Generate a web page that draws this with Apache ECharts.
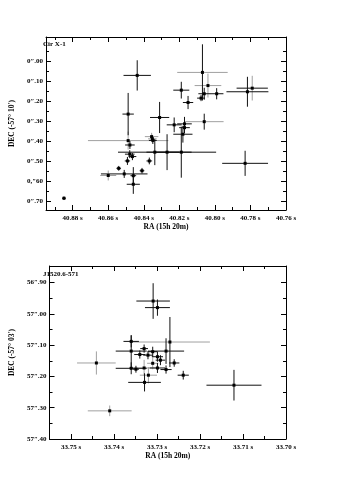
<!DOCTYPE html>
<html><head><meta charset="utf-8">
<script src="https://cdn.jsdelivr.net/npm/echarts@6/dist/echarts.min.js"></script>
<style>html,body{margin:0;padding:0;background:#fff}#c{width:352px;height:477px}</style>
</head><body><div id="c"></div>
<script>
// ---- Panel 1: Cir X-1 ----
const cirRA = [40.8437,40.8488,40.8311,40.8070,40.8039,40.8189,40.8078,40.8060,40.7990,40.8151,40.7817,40.7790,40.8060,40.8229,40.8171,40.8171,40.8180,40.8488,40.8478,40.8356,40.8352,40.8349,40.8338,40.8269,40.8189,40.8369,40.8479,40.8464,40.8492,40.8541,40.8510,40.8459,40.8459,40.8600,40.8410,40.8849,40.7830];
const cirDEC = [0.070,0.264,0.281,0.055,0.121,0.144,0.184,0.162,0.162,0.206,0.152,0.134,0.302,0.318,0.313,0.332,0.365,0.397,0.419,0.377,0.388,0.396,0.455,0.455,0.455,0.499,0.465,0.477,0.499,0.536,0.564,0.573,0.616,0.572,0.548,0.686,0.511];
const cirRAErr = [0.0077,0.0032,0.0054,0.0142,0.0075,0.0045,0.0022,0.0033,0.0038,0.0029,0.0118,0.0088,0.0109,0.0042,0.0041,0.0030,0.0054,0.0226,0.0027,0.0038,0.0024,0.0022,0.0207,0.0068,0.0196,0.0016,0.0027,0.0022,0.0015,0.0013,0.0131,0.0016,0.0037,0.0045,0.0013,0.0011,0.0129];
const cirDECErr = [0.076,0.106,0.078,0.141,0.060,0.042,0.015,0.030,0.028,0.033,0.075,0.062,0.040,0.037,0.035,0.028,0.042,0.045,0.020,0.019,0.020,0.018,0.065,0.090,0.128,0.017,0.020,0.018,0.020,0.012,0.020,0.043,0.048,0.025,0.014,0.009,0.063];
const cirRAGray  = [0,0,0,1,1,0,0,0,0,0,0,0,1,0,0,0,0,1,0,1,1,0,0,0,0,0,0,0,0,0,0,0,0,1,0,0,0];
const cirDECGray = [0,0,0,0,1,0,0,0,0,0,0,1,0,0,0,0,0,1,0,1,1,0,0,0,0,0,0,0,0,0,0,0,0,1,0,0,0];
const cirRaTicks = [40.88,40.86,40.84,40.82,40.80,40.78,40.76];
const cirRaMinor = [40.89,40.87,40.85,40.83,40.81,40.79,40.77];
const cirDecTicks = [0.0,0.1,0.2,0.3,0.4,0.5,0.6,0.7];
const cirDecMinor = [-0.05,0.05,0.15,0.25,0.35,0.45,0.55,0.65];
const cirDecLabels = ['0\u2033.00','0\u2033.10','0\u2033.20','0\u2033.30','0\u2033.40','0\u2033.50','0,\u203360','0\u2033.70'];

// ---- Panel 2: J1520.6-571 ----
const jRA = [33.7309,33.7299,33.7360,33.7270,33.7360,33.7279,33.7330,33.7340,33.7321,33.7310,33.7299,33.7292,33.7310,33.7260,33.7360,33.7349,33.7330,33.7299,33.7279,33.7320,33.7329,33.7239,33.7441,33.7410,33.7121];
const jDEC = [56.959,56.980,57.088,57.090,57.119,57.119,57.111,57.130,57.132,57.121,57.137,57.148,57.158,57.157,57.174,57.177,57.173,57.173,57.178,57.196,57.219,57.196,57.157,57.310,57.228];
const jRAErr = [0.0039,0.0029,0.0018,0.0093,0.0036,0.0042,0.0009,0.0013,0.0011,0.0011,0.0013,0.0011,0.0013,0.0012,0.0036,0.0007,0.0035,0.0018,0.0013,0.0020,0.0038,0.0013,0.0045,0.0051,0.0064];
const jDECErr = [0.057,0.026,0.019,0.080,0.051,0.041,0.013,0.013,0.013,0.016,0.016,0.016,0.019,0.012,0.019,0.011,0.026,0.016,0.013,0.026,0.029,0.014,0.037,0.017,0.049];
const jRAGray  = [0,0,0,1,0,0,0,0,0,0,0,0,1,0,0,0,1,0,0,1,0,0,1,1,0];
const jDECGray = [0,0,0,0,0,0,0,0,0,0,0,0,1,0,0,0,1,0,0,1,0,0,1,1,0];
const jRaTicks = [33.75,33.74,33.73,33.72,33.71,33.70];
const jRaMinor = [33.745,33.735,33.725,33.715,33.705];
const jDecTicks = [56.9,57.0,57.1,57.2,57.3,57.4];
const jDecMinor = [56.95,57.05,57.15,57.25,57.35];
const jDecLabels = ['56\u2033.90','57\u2033.00','57\u2033.10','57\u2033.20','57\u2033.30','57\u2033.40'];

const FONT = 'Liberation Serif';
const BLACK = '#111', GRAY = '#a0a0a0';
const lblStyle = {fontSize:7, fontWeight:'bold', fontFamily:FONT, color:'#000'};

function findLabel(v, ticks, labels){
  for (let i=0;i<ticks.length;i++) if (Math.abs(ticks[i]-v)<1e-6) return labels[i];
  return '';
}

function makeAxes(kind, grid, min, max, ticks, minor, fmt, name, nameGap){
  const main = kind==='x' ? 'bottom' : 'left';
  const other = kind==='x' ? 'top' : 'right';
  const base = {type:'value', gridIndex:grid, min:min, max:max, inverse:true, splitLine:{show:false}, scale:true};
  const ax = [];
  ax.push(Object.assign({}, base, {
    position:main,
    axisLine:{show:true, onZero:false, lineStyle:{color:'#000', width:1}},
    axisTick:{show:true, inside:true, length:5, customValues:ticks, lineStyle:{color:'#000'}},
    axisLabel:Object.assign({show:true, customValues:ticks, formatter:fmt, margin:kind==='x'?5:3}, lblStyle),
    name:name, nameLocation:'middle', nameGap:nameGap, nameRotate: kind==='y'?90:0,
    nameTextStyle:{fontSize:7.5, fontWeight:'bold', fontFamily:FONT, color:'#000'}
  }));
  ax.push(Object.assign({}, base, {
    position:main, axisLine:{show:false, onZero:false},
    axisTick:{show:true, inside:true, length:3, customValues:minor, lineStyle:{color:'#000'}},
    axisLabel:{show:false}
  }));
  ax.push(Object.assign({}, base, {
    position:other,
    axisLine:{show:true, onZero:false, lineStyle:{color:'#000', width:1}},
    axisTick:{show:true, inside:true, length:5, customValues:ticks, lineStyle:{color:'#000'}},
    axisLabel:{show:false}
  }));
  ax.push(Object.assign({}, base, {
    position:other, axisLine:{show:false, onZero:false},
    axisTick:{show:true, inside:true, length:3, customValues:minor, lineStyle:{color:'#000'}},
    axisLabel:{show:false}
  }));
  return ax;
}

function buildData(ra, dec, rae, dece, rg, dg){
  return ra.map((v,i)=>[v, dec[i], rae[i], dece[i], rg[i], dg[i]]);
}

function renderItem(params, api){
  const x = api.value(0), y = api.value(1), ex = api.value(2), ey = api.value(3);
  const xg = api.value(4), yg = api.value(5);
  const c = api.coord([x,y]);
  const l = api.coord([x-ex,y]), r = api.coord([x+ex,y]);
  const t = api.coord([x,y-ey]), b = api.coord([x,y+ey]);
  return {type:'group', children:[
    {type:'line', z2: xg?1:2, shape:{x1:l[0],y1:c[1],x2:r[0],y2:c[1]}, style:{stroke: xg?GRAY:BLACK, lineWidth:1}},
    {type:'line', z2: yg?1:2, shape:{x1:c[0],y1:t[1],x2:c[0],y2:b[1]}, style:{stroke: yg?GRAY:BLACK, lineWidth:1}},
    {type:'rect', z2:3, shape:{x:c[0]-1.5,y:c[1]-1.5,width:3,height:3}, style:{fill:'#000'}}
  ]};
}

const xAxes = [].concat(
  makeAxes('x',0,40.76,40.895,cirRaTicks,cirRaMinor,v=>v.toFixed(2)+' s','RA (15h 20m)',13),
  makeAxes('x',1,33.70,33.755,jRaTicks,jRaMinor,v=>v.toFixed(2)+' s','RA (15h 20m)',13)
);
const yAxes = [].concat(
  makeAxes('y',0,-0.1226,0.745,cirDecTicks,cirDecMinor,v=>findLabel(v,cirDecTicks,cirDecLabels),'DEC (-57\u00b0 10\u2032)',25),
  makeAxes('y',1,56.847,57.40,jDecTicks,jDecMinor,v=>findLabel(v,jDecTicks,jDecLabels),'DEC (-57\u00b0 03\u2032)',25)
);

const chart = echarts.init(document.getElementById('c'), null, {renderer:'canvas'});
chart.setOption({
  animation:false,
  backgroundColor:'#fff',
  title:[
    {text:'Cir X-1', left:43, top:41, padding:0, textStyle:{fontSize:7, fontWeight:'bold', fontFamily:FONT, color:'#000'}},
    {text:'J1520.6-571', left:43, top:271, padding:0, textStyle:{fontSize:7, fontWeight:'bold', fontFamily:FONT, color:'#000'}}
  ],
  grid:[
    {left:37, top:37, width:249, height:173},
    {left:37, top:266, width:249, height:173}
  ],
  xAxis:xAxes,
  yAxis:yAxes,
  series:[
    {type:'custom', xAxisIndex:0, yAxisIndex:0, clip:true, renderItem:renderItem,
     data:buildData(cirRA,cirDEC,cirRAErr,cirDECErr,cirRAGray,cirDECGray)},
    {type:'custom', xAxisIndex:4, yAxisIndex:4, clip:true, renderItem:renderItem,
     data:buildData(jRA,jDEC,jRAErr,jDECErr,jRAGray,jDECGray)}
  ]
});
</script></body></html>
